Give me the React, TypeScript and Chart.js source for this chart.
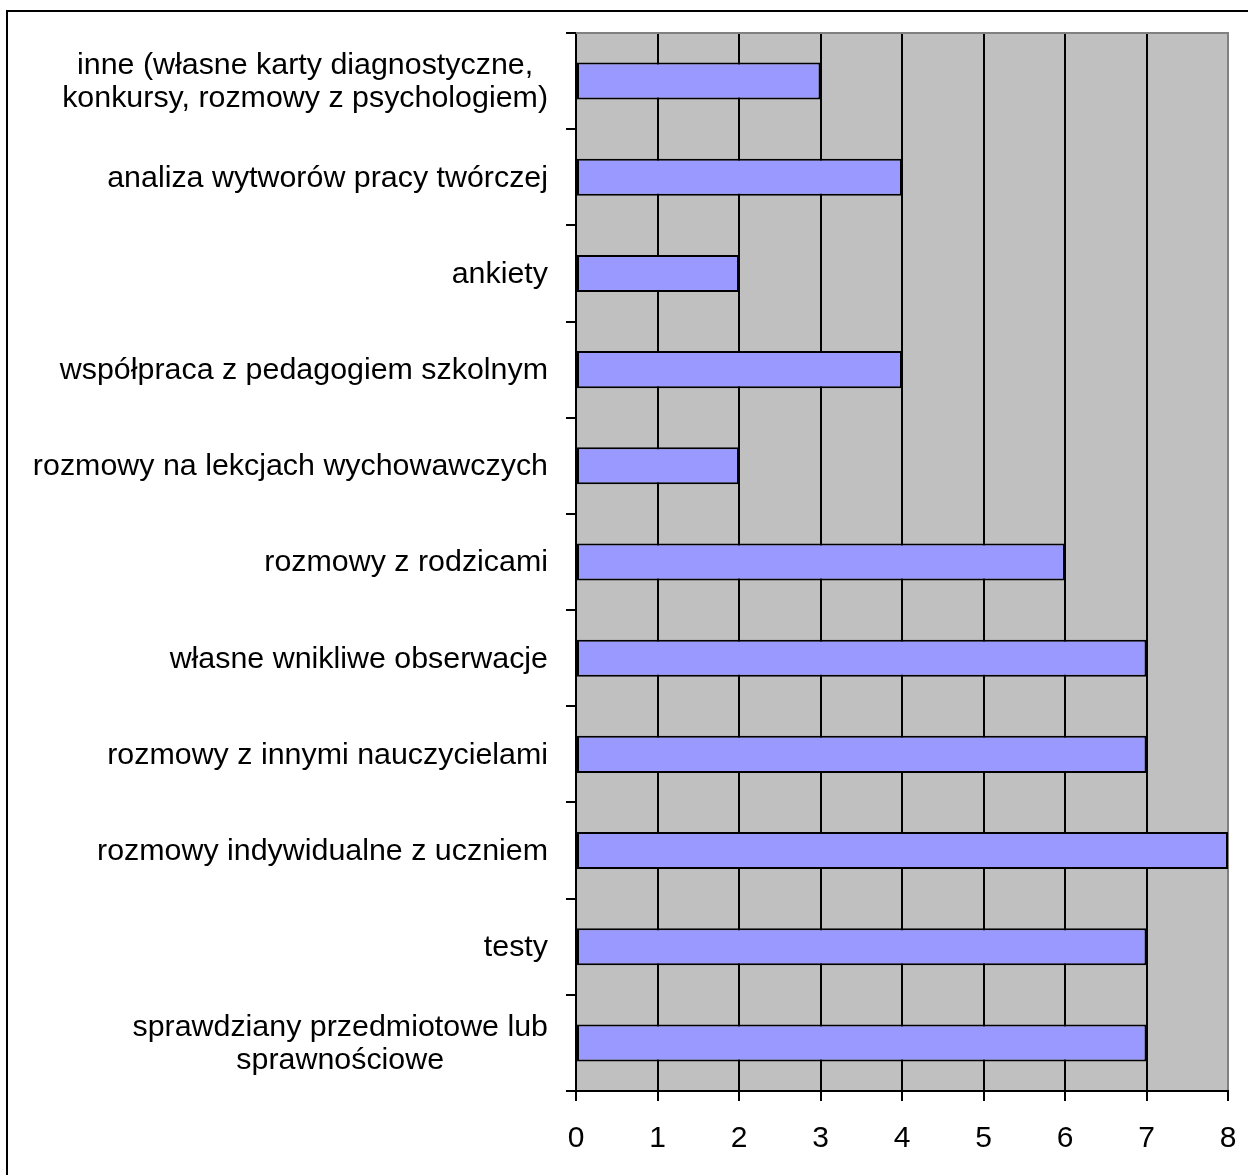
import React, { useEffect, useRef } from "react";
import { Chart, registerables } from "chart.js";

Chart.register(...registerables);

const categories: string[][] = [
  ["inne (własne karty diagnostyczne,", "konkursy, rozmowy z psychologiem)"],
  ["analiza wytworów pracy twórczej"],
  ["ankiety"],
  ["współpraca z pedagogiem szkolnym"],
  ["rozmowy na lekcjach wychowawczych"],
  ["rozmowy z rodzicami"],
  ["własne wnikliwe obserwacje"],
  ["rozmowy z innymi nauczycielami"],
  ["rozmowy indywidualne z uczniem"],
  ["testy"],
  ["sprawdziany przedmiotowe lub", "sprawnościowe"],
];

const values: number[] = [3, 4, 2, 4, 2, 6, 7, 7, 8, 7, 7];

const xTicks: number[] = [0, 1, 2, 3, 4, 5, 6, 7, 8];

const FONT = '"Liberation Sans", Arial, sans-serif';
const FONT_SIZE = 30.4;
const LINE_H = 33;

const plotBg = {
  id: "plotBg",
  beforeDraw(chart: any) {
    const { ctx, chartArea } = chart;
    ctx.save();
    ctx.fillStyle = "#C0C0C0";
    ctx.fillRect(chartArea.left, chartArea.top, chartArea.right - chartArea.left, chartArea.bottom - chartArea.top);
    ctx.restore();
  },
  afterDraw(chart: any) {
    const { ctx, chartArea } = chart;
    ctx.save();
    ctx.strokeStyle = "#808080";
    ctx.lineWidth = 2;
    ctx.beginPath();
    ctx.moveTo(chartArea.left, chartArea.top);
    ctx.lineTo(chartArea.right + 1, chartArea.top);
    ctx.stroke();
    ctx.restore();

    const yScale = chart.scales.y;
    ctx.save();
    ctx.font = `${FONT_SIZE}px ${FONT}`;
    ctx.fillStyle = "#000";
    ctx.textAlign = "center";
    ctx.textBaseline = "middle";
    const rightEdge = 540;
    categories.forEach((lines, i) => {
      const cy = yScale.getPixelForValue(i) + 1;
      const maxW = Math.max(...lines.map((l) => ctx.measureText(l).width));
      const cx = rightEdge - maxW / 2;
      const startY = cy - ((lines.length - 1) * LINE_H) / 2;
      lines.forEach((l, j) => {
        ctx.fillText(l, cx, startY + j * LINE_H);
      });
    });
    ctx.restore();
  },
};

export default function App() {
  const canvasRef = useRef<HTMLCanvasElement>(null);

  useEffect(() => {
    const canvas = canvasRef.current;
    if (!canvas) return;
    const chart = new Chart(canvas, {
      type: "bar",
      data: {
        labels: categories.map((c) => c.join(" ")),
        datasets: [
          {
            data: values,
            backgroundColor: "#9999FF",
            borderColor: "#000000",
            borderWidth: 2,
            borderSkipped: false,
            categoryPercentage: 1,
            barPercentage: 0.385,
          },
        ],
      },
      options: {
        indexAxis: "y",
        animation: false,
        responsive: false,
        maintainAspectRatio: false,
        layout: { padding: { top: 21, right: 20, left: 0, bottom: 0 } },
        plugins: {
          legend: { display: false },
          tooltip: { enabled: false },
          title: { display: false },
        },
        scales: {
          x: {
            type: "linear",
            min: 0,
            max: 8,
            afterBuildTicks(scale: any) {
              scale.ticks = xTicks.map((v) => ({ value: v }));
            },
            afterFit(scale: any) {
              scale.height = 84;
              scale.paddingLeft = 0;
              scale.paddingRight = 0;
            },
            grid: {
              display: true,
              drawOnChartArea: true,
              drawTicks: true,
              tickLength: 10,
              lineWidth: 2,
              color: (ctx: any) => (ctx.tick && ctx.tick.value === 8 ? "#808080" : "#000000"),
              tickColor: "#000000",
            },
            border: { display: true, color: "#000000", width: 2 },
            ticks: {
              color: "#000000",
              font: { family: FONT, size: 30 },
              padding: 20,
              maxRotation: 0,
            },
          },
          y: {
            type: "category",
            afterFit(scale: any) {
              scale.width = 568;
              scale.paddingTop = 0;
              scale.paddingBottom = 0;
            },
            grid: {
              display: true,
              offset: true,
              drawOnChartArea: false,
              drawTicks: true,
              tickLength: 10,
              lineWidth: 2,
              color: "#000000",
              tickColor: "#000000",
            },
            border: { display: true, color: "#000000", width: 2 },
            ticks: { display: false },
          },
        },
      },
      plugins: [plotBg],
    });
    return () => chart.destroy();
  }, []);

  return (
    <div
      style={{
        position: "absolute",
        left: 6,
        top: 10,
        width: 1242,
        height: 1165,
        boxSizing: "border-box",
        borderLeft: "2px solid #000",
        borderTop: "2px solid #000",
        background: "#fff",
        overflow: "hidden",
      }}
    >
      <canvas ref={canvasRef} width={1240} height={1163} style={{ display: "block", width: 1240, height: 1163 }} />
    </div>
  );
}
